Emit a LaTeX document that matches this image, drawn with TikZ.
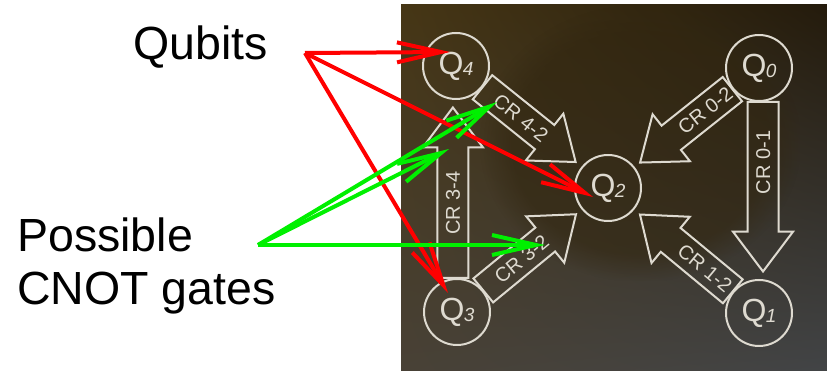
\documentclass[tikz,border=0pt]{standalone}
\usepackage{fontspec}
\setmainfont{Liberation Sans}
\usetikzlibrary{positioning,calc,shapes.arrows,arrows.meta,shadings,fadings}

\definecolor{chalk}{RGB}{222,218,208}
\definecolor{markred}{RGB}{255,0,0}
\definecolor{markgreen}{RGB}{0,240,0}
\definecolor{photoUL}{RGB}{70,54,21}
\definecolor{photoUR}{RGB}{36,27,12}
\definecolor{photoLL}{RGB}{72,65,54}
\definecolor{photoLR}{RGB}{66,68,70}
\definecolor{photoMid}{RGB}{50,38,15}

\newcommand{\qlabel}[1]{Q\kern-0.5pt\raisebox{-1.5pt}{\fontsize{19}{19}\selectfont\itshape #1}}

\tikzset{
	qubit/.style={circle, draw=chalk, line width=2pt, minimum size=66pt, inner sep=0pt,
		text=chalk, font=\fontsize{32}{32}\selectfont},
	crarrow/.style={single arrow, draw=chalk, line width=2pt, text=chalk,
		font=\fontsize{20}{20}\selectfont, text height=14pt, text depth=0pt,
		inner ysep=7.5pt, inner xsep=2pt, single arrow head extend=14.5pt,
		single arrow tip angle=74, anchor=tail},
	pointer/.style={line width=4pt, -{Straight Barb[length=44pt,width=20pt]}},
	caption/.style={anchor=base west, inner sep=0pt, align=left,
		font=\fontsize{46.5}{53}\selectfont},
}

\begin{document}
\begin{tikzpicture}[x=1pt, y=1pt]
	\useasboundingbox (0,0) rectangle (827,371);
	% photo of the chip
	\shade[upper left=photoUL, upper right=photoUR, lower left=photoLL, lower right=photoLR]
		(401,0) rectangle (827,366);
	\fill[photoMid, fill opacity=0.55, path fading=circle with fuzzy edge 20 percent]
		(480,90) rectangle (800,366);

	\node[qubit] (q4) at (456,305) {\qlabel{4}};
	\node[qubit] (q0) at (759,303) {\qlabel{0}};
	\node[qubit] (q2) at (608,183) {\qlabel{2}};
	\node[qubit] (q3) at (457,59) {\qlabel{3}};
	\node[qubit] (q1) at (759,58) {\qlabel{1}};

	% cross resonance gates
	\node[crarrow, rotate=-38.75, minimum height=119.4pt] (cr42) at ($(q4)!33pt!(q2)$) {CR 4-2\hspace{28pt}};
	\node[crarrow, rotate=39.4, minimum height=120pt] (cr32) at ($(q3)!33pt!(q2)$) {CR 3-2\hspace{28pt}};
	\node[crarrow, rotate=38.5, shape border rotate=180, minimum height=117.4pt] (cr02) at ($(q0)!33pt!(q2)$) {\hspace{28pt}CR 0-2};
	\node[crarrow, rotate=-39.6, shape border rotate=180, minimum height=120.5pt] (cr12) at ($(q1)!33pt!(q2)$) {\hspace{28pt}CR 1-2};
	\node[crarrow, rotate=90, shape border rotate=180, minimum height=169.5pt] (cr01) at ($(q0)!33pt!(q1)+(4,0)$) {\hspace{28pt}CR 0-1};
	\node[crarrow, rotate=90, minimum height=170.5pt] (cr34) at ($(q3)!33pt!(q4)+(-4,0)$) {CR 3-4\hspace{28pt}};

	\node[caption] (qubits) at (133,311) {Qubits};
	\node[caption] (gates) at (17,66) {Possible\\CNOT gates};

	\coordinate (qfan) at (305,318);
	\coordinate (gfan) at (258,126);
	\draw[pointer, markred] (qfan) -- ($(q4)+(-6,14)$);
	\draw[pointer, markred] (qfan) -- ($(q2)+(-15,-9)$);
	\draw[pointer, markred] (qfan) -- ($(q3)+(-9,19)$);
	\draw[pointer, markgreen] (gfan) -- ($(q4)+(41,-36)$);
	\draw[pointer, markgreen] (gfan) -- ($(q3)+(-8,163)$);
	\draw[pointer, markgreen] (gfan) -- ($(q3)+(88,67)$);
\end{tikzpicture}
\end{document}
